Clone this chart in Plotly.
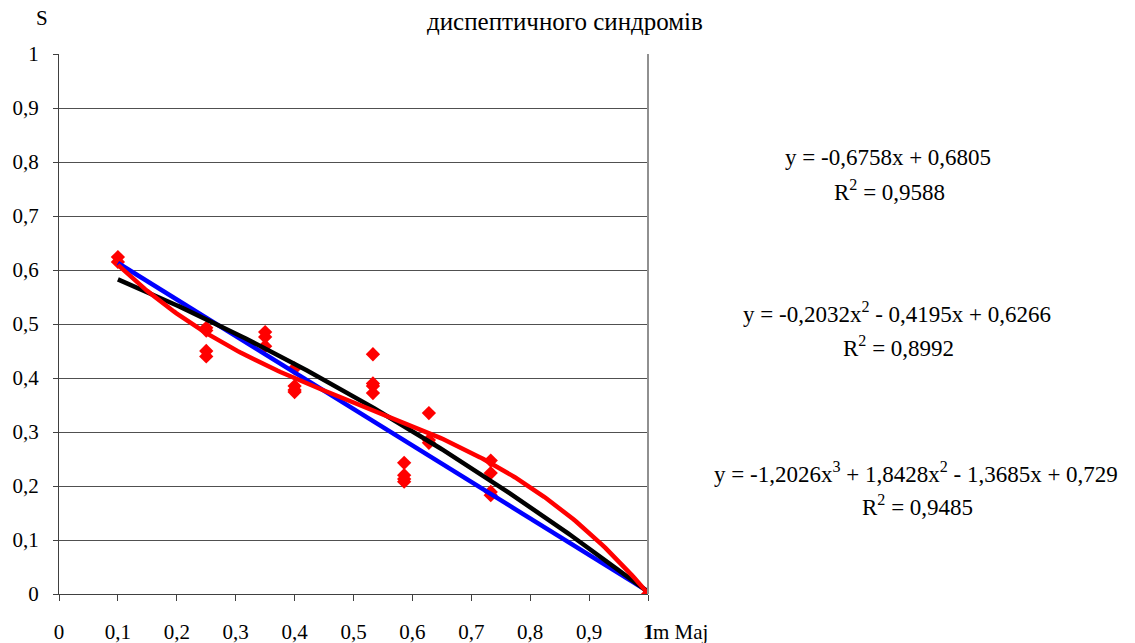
import numpy as np
import plotly.graph_objects as go

# ---- data ----
x_points = [0.1, 0.1, 0.25, 0.25, 0.25, 0.25, 0.35, 0.35, 0.35,
            0.4, 0.4, 0.4, 0.4, 0.533, 0.533, 0.533, 0.533,
            0.586, 0.586, 0.586, 0.586, 0.628, 0.628, 0.628,
            0.733, 0.733, 0.733, 0.733, 1.0]
y_points = [0.624, 0.615, 0.493, 0.488, 0.45, 0.44, 0.485, 0.476, 0.459,
            0.418, 0.385, 0.378, 0.374, 0.444, 0.39, 0.385, 0.372,
            0.243, 0.22, 0.213, 0.208, 0.335, 0.285, 0.28,
            0.247, 0.224, 0.189, 0.183, 0.0]

# trendline coefficients (highest power first), as printed on the chart
linear_coef = [-0.6758, 0.6805]
quad_coef = [-0.2032, -0.4195, 0.6266]
cubic_coef = [-1.2026, 1.8428, -1.3685, 0.729]
trend_range = [0.1, 1.0]

x_ticks = [0, 0.1, 0.2, 0.3, 0.4, 0.5, 0.6, 0.7, 0.8, 0.9, 1]
x_ticktext = ["0", "0,1", "0,2", "0,3", "0,4", "0,5", "0,6", "0,7", "0,8", "0,9", "1"]
y_ticks = [0, 0.1, 0.2, 0.3, 0.4, 0.5, 0.6, 0.7, 0.8, 0.9, 1]
y_ticktext = ["0", "0,1", "0,2", "0,3", "0,4", "0,5", "0,6", "0,7", "0,8", "0,9", "1"]

eq_lines = [
    ("y = -0,6758x + 0,6805", "R<sup>2</sup> = 0,9588"),
    ("y = -0,2032x<sup>2</sup> - 0,4195x + 0,6266", "R<sup>2</sup> = 0,8992"),
    ("y = -1,2026x<sup>3</sup> + 1,8428x<sup>2</sup> - 1,3685x + 0,729", "R<sup>2</sup> = 0,9485"),
]

FONT = "Liberation Serif"
FS_TICK = 21
FS_EQ = 23
FS_TITLE = 25

xs = np.linspace(trend_range[0], trend_range[1], 200)

fig = go.Figure()
fig.add_trace(go.Scatter(x=x_points, y=y_points, mode="markers",
                         marker=dict(symbol="diamond", size=11, color="#ff0000",
                                     line=dict(width=0)),
                         showlegend=False))
fig.add_trace(go.Scatter(x=xs, y=np.polyval(linear_coef, xs), mode="lines",
                         line=dict(color="#0000ff", width=4.5), showlegend=False))
fig.add_trace(go.Scatter(x=xs, y=np.polyval(quad_coef, xs), mode="lines",
                         line=dict(color="#000000", width=4.5), showlegend=False))
fig.add_trace(go.Scatter(x=xs, y=np.polyval(cubic_coef, xs), mode="lines",
                         line=dict(color="#ff0000", width=4.5), showlegend=False))

fig.update_layout(
    width=1135, height=643,
    margin=dict(l=59, r=487, t=54, b=49, autoexpand=False),
    paper_bgcolor="white", plot_bgcolor="white",
    font=dict(family=FONT, size=FS_TICK, color="black"),
    showlegend=False,
)
fig.update_xaxes(range=[0, 1], tickvals=x_ticks, ticktext=x_ticktext,
                 showgrid=False, zeroline=False, automargin=False,
                 showline=True, linecolor="#404040", linewidth=1,
                 ticks="outside", ticklen=6, tickcolor="#404040",
                 ticklabelstandoff=13,
                 tickfont=dict(family=FONT, size=FS_TICK, color="black"))
fig.update_yaxes(range=[0, 1], tickvals=y_ticks, ticktext=y_ticktext,
                 showgrid=True, gridcolor="#505050", gridwidth=1, zeroline=False,
                 automargin=False,
                 showline=True, linecolor="#404040", linewidth=1,
                 ticks="outside", ticklen=5, tickcolor="#404040",
                 ticklabelstandoff=10,
                 tickfont=dict(family=FONT, size=FS_TICK, color="black"))

# right border of plot area
fig.add_shape(type="line", xref="paper", yref="paper", x0=1, x1=1, y0=0, y1=1,
              line=dict(color="#909090", width=2))

# axis titles / title
fig.add_annotation(text="S", xref="paper", yref="paper", x=-17/589, y=1 + 36/540,
                   xanchor="center", yanchor="middle", showarrow=False,
                   font=dict(family=FONT, size=FS_TICK, color="black"))
fig.add_annotation(text="Im Maj", xref="paper", yref="paper", x=1, y=-38/540,
                   xanchor="left", yanchor="middle", xshift=-4, showarrow=False,
                   font=dict(family=FONT, size=FS_TICK, color="black"))
fig.add_annotation(text="диспептичного синдромів", xref="paper", yref="paper",
                   x=(565 - 59) / 589, y=1 + 32/540, xanchor="center", yanchor="middle",
                   showarrow=False, font=dict(family=FONT, size=FS_TITLE, color="black"))

eq_pos = [((888, 158), (889, 190)), ((897, 312), (898, 347)), ((916, 472), (917, 505))]
for (eq, r2), ((ex, ey), (rx, ry)) in zip(eq_lines, eq_pos):
    fig.add_annotation(text=eq, xref="paper", yref="paper",
                       x=(ex - 59) / 589, y=(594 - ey) / 540,
                       xanchor="center", yanchor="middle", showarrow=False,
                       font=dict(family=FONT, size=FS_EQ, color="black"))
    fig.add_annotation(text=r2, xref="paper", yref="paper",
                       x=(rx - 59) / 589, y=(594 - ry) / 540,
                       xanchor="center", yanchor="middle", showarrow=False,
                       font=dict(family=FONT, size=FS_EQ, color="black"))

fig.write_html("out.html")
